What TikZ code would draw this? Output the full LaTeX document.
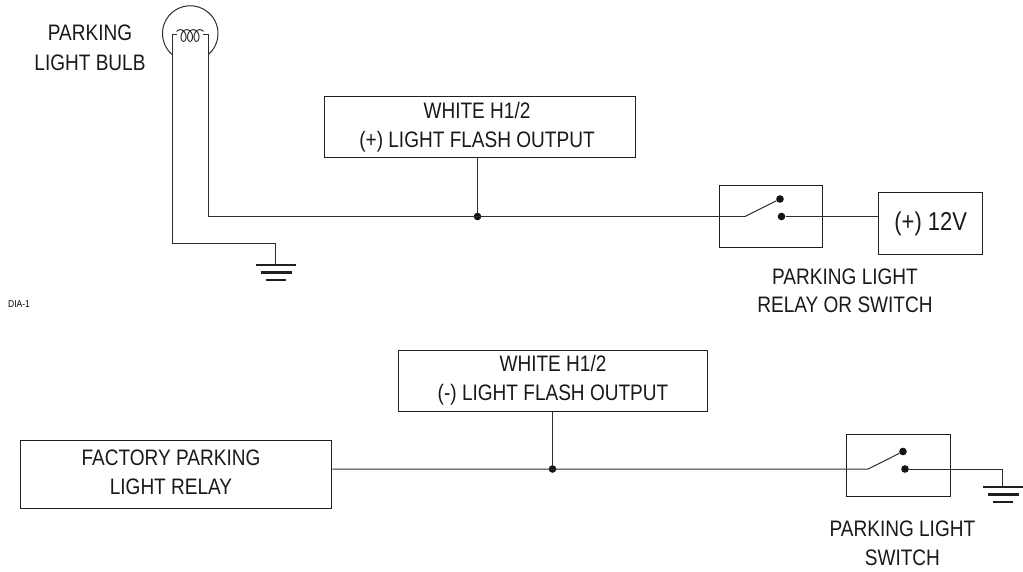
\documentclass[tikz,border=0pt]{standalone}
\usepackage{fontspec}
\setmainfont[FakeStretch=0.85]{Liberation Sans}
\newcommand{\labelfont}{\fontsize{22.4}{29.4}\selectfont}
\newcommand{\tightfont}{\fontsize{22.4}{27.6}\selectfont}
\tikzset{
  wire/.style={draw=black!82,line width=1pt},
  box/.style={draw=black!88,line width=1.3pt,inner sep=0pt,anchor=north west},
  lbl/.style={inner sep=0pt,align=center,font=\labelfont,text=black!90},
  tlbl/.style={lbl,font=\tightfont},
  dotj/.style={circle,fill=black!92,inner sep=0pt,minimum size=7.6pt},
  gbar/.style={draw=black!88,line width=2.2pt}
}
\begin{document}
\begin{tikzpicture}[x=1pt,y=-1pt]
\useasboundingbox (0,0) rectangle (1023,571);
% top circuit boxes
\node[box,minimum width=311pt,minimum height=61pt] (flashp) at (324,96) {};
\node[lbl] (flashptxt) at (477,127) {WHITE H1/2\\(+) LIGHT FLASH OUTPUT};
\node[box,minimum width=103.5pt,minimum height=62pt] (relay) at (718.5,184.5) {};
\node[box,minimum width=104pt,minimum height=62pt,font=\fontsize{25.8}{27}\selectfont,text=black!90] (v12) at (878,192) {(+) 12V};
\node[lbl] (bulbtxt) at (90,47.7) {PARKING\\LIGHT BULB};
\node[tlbl] (relaytxt) at (845,291) {PARKING LIGHT\\RELAY OR SWITCH};
\node[inner sep=0pt,font=\fontsize{10}{10}\selectfont] (dia) at (19,304) {DIA-1};
% top circuit points
\node[dotj] (jp) at (477.5,216.5) {};
\node[dotj] (s1a) at (780,199) {};
\node[dotj] (s1b) at (781.5,216.5) {};
\coordinate (h1) at (745,216.5);
\coordinate (bulbR) at (208.5,216.5);
\coordinate (bulbRt) at (208.5,34);
\coordinate (bulbL) at (172,243);
\coordinate (bulbLt) at (172,34);
\coordinate (coilL) at (176.6,34);
\coordinate (coilR) at (203.4,34);
\coordinate (g1t) at (275.5,243);
\coordinate (g1) at (275.5,265);
\coordinate (g1b) at (275.5,272.5);
\coordinate (g1c) at (275.5,280);
% top circuit wires
\draw[wire] (flashp.south -| jp) -- (jp);
\draw[wire] (s1b) -- (v12.west |- s1b);
\draw[wire] (h1) -- (bulbR) -- (bulbRt) -- (coilR);
\draw[wire] (h1) -- (s1a);
\draw[wire] (coilL) -- (bulbLt) -- (bulbL) -- (g1t) -- (g1);
\draw[wire] plot[domain=-45:1125,samples=180] ({190+6.5*(\x-540)/360+4*sin(\x)},{35.5-5.8*cos(\x)});
\draw[wire] (172,54.5) arc[start angle=131,end angle=409,radius=27.8];
\draw[gbar] ([xshift=-20pt]g1) -- ([xshift=20pt]g1);
\draw[gbar] ([xshift=-15pt]g1b) -- ([xshift=16pt]g1b);
\draw[gbar] ([xshift=-10pt]g1c) -- ([xshift=10pt]g1c);
% bottom circuit boxes
\node[box,minimum width=309pt,minimum height=61pt] (flashn) at (398,350) {};
\node[lbl] (flashntxt) at (553,380) {WHITE H1/2\\(-) LIGHT FLASH OUTPUT};
\node[box,minimum width=311pt,minimum height=68pt] (factory) at (20,440) {};
\node[lbl] (factorytxt) at (171,472.4) {FACTORY PARKING\\LIGHT RELAY};
\node[box,minimum width=104pt,minimum height=62pt] (sw) at (845.5,434) {};
\node[lbl] (swtxt) at (902.4,543.4) {PARKING LIGHT\\SWITCH};
% bottom circuit points
\node[dotj] (jn) at (552.5,469) {};
\node[dotj] (s2a) at (903,451.5) {};
\node[dotj] (s2b) at (905,469) {};
\coordinate (h2) at (868.3,469);
\coordinate (g2t) at (1002.7,469);
\coordinate (g2) at (1002.7,487);
\coordinate (g2b) at (1002.7,494.5);
\coordinate (g2c) at (1002.7,502);
% bottom circuit wires
\draw[wire] (flashn.south -| jn) -- (jn);
\draw[wire] (factory.east |- h2) -- (h2) -- (s2a);
\draw[wire] (s2b) -- (g2t) -- (g2);
\draw[gbar] ([xshift=-20pt]g2) -- ([xshift=20pt]g2);
\draw[gbar] ([xshift=-15pt]g2b) -- ([xshift=16pt]g2b);
\draw[gbar] ([xshift=-10pt]g2c) -- ([xshift=10pt]g2c);
\end{tikzpicture}
\end{document}
